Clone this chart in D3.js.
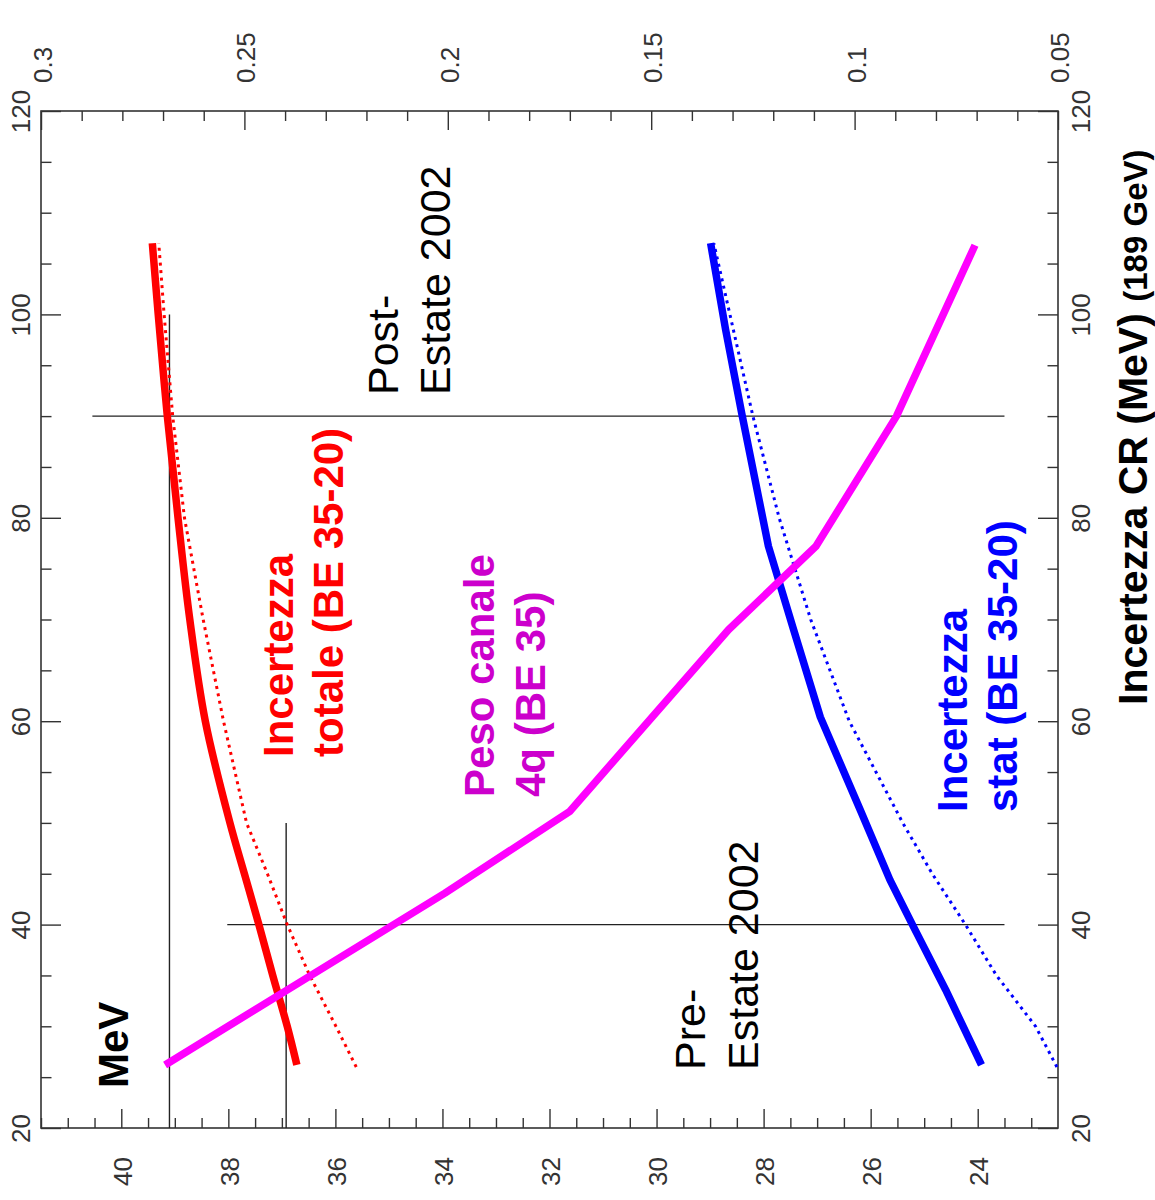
<!DOCTYPE html>
<html>
<head>
<meta charset="utf-8">
<script src="https://cdn.jsdelivr.net/npm/d3@7"></script>
<style>
  html, body { margin: 0; padding: 0; background: #fff; }
  svg { display: block; }
</style>
</head>
<body>
<svg id="chart" width="1155" height="1200"></svg>
<script>
// ---------------- DATA ----------------
// x quantity: Incertezza CR (MeV) ; left quantity: MeV ; right quantity: peso canale 4q
const crTicks = [20, 40, 60, 80, 100, 120];
const mevTicks = [24, 26, 28, 30, 32, 34, 36, 38, 40];
const pesoTicks = [0.05, 0.1, 0.15, 0.2, 0.25, 0.3];

// Incertezza totale (BE 35-20) - thick red
const crTot = [26.2, 30, 35, 40, 45, 50, 60, 70, 80, 90, 100, 107];
const totThick = [36.72, 36.90, 37.17, 37.43, 37.70, 37.97, 38.43, 38.72, 38.94, 39.14, 39.31, 39.42];
// dotted companions
const crDot = [26, 30, 35, 40, 45, 50, 60, 70, 80, 90, 100, 107];
const totDot = [35.61, 35.99, 36.48, 36.90, 37.27, 37.66, 38.09, 38.47, 38.82, 39.04, 39.20, 39.30];
const statDot = [22.52, 22.92, 23.65, 24.23, 24.85, 25.40, 26.40, 27.12, 27.71, 28.20, 28.63, 28.93];
// Incertezza stat (BE 35-20) - thick blue
const crStat = [26.2, 33.6, 40, 44.4, 51.1, 60.4, 69, 77.2, 90.3, 98.5, 107];
const statThick = [23.93, 24.60, 25.22, 25.64, 26.18, 26.94, 27.44, 27.91, 28.41, 28.71, 28.99];
// Peso canale 4q (BE 35) - magenta, right scale
const crPeso = [26.2, 43.1, 51.1, 69.0, 77.2, 90.0, 106.8];
const peso = [0.2695, 0.2007, 0.1701, 0.1310, 0.1095, 0.0897, 0.0704];

// reference lines (Pre / Post Estate 2002)
const refMeV = [39.1, 36.92];       // constant-MeV lines
const refMeVcr = [[20, 100], [20, 50]];
const refCR = [40, 90];             // constant-CR lines
const refCRmev = [[38.02, 23.5], [40.54, 23.5]];

// ---------------- DRAW ----------------
const svg = d3.select("#chart");
const FONT = "'Liberation Sans', Arial, Helvetica, sans-serif";
const L = 41, R = 1058, T = 111, B = 1128;

const yCR = d3.scaleLinear().domain([20, 120]).range([B, T]);
const xM = d3.scaleLinear().domain([41.5, 22.5]).range([L, R]);
const xP = d3.scaleLinear().domain([0.3, 0.05]).range([L, R]);

const axColor = "#333";
function clean(g) {
  g.select(".domain").remove();
  g.selectAll("line").attr("stroke", axColor).attr("stroke-width", 1.4);
  g.selectAll("text").attr("x", null).attr("y", null).attr("dy", null)
    .attr("font-family", FONT).attr("font-size", 26).attr("fill", "#333");
}
const fmt = d => String(+d.toFixed(2));

// bottom edge : MeV
const mevMinor = d3.range(23, 41.51, 0.5).filter(v => Math.abs(v % 2) > 1e-6);
svg.append("g").attr("transform", `translate(0,${B})`)
  .call(d3.axisBottom(xM).tickValues(mevMinor).tickSize(-10).tickFormat("")).call(clean);
svg.append("g").attr("transform", `translate(0,${B})`)
  .call(d3.axisBottom(xM).tickValues(mevTicks).tickSize(-19).tickFormat(fmt)).call(clean)
  .call(g => g.selectAll("text").attr("text-anchor", "end").attr("transform", "translate(10,29) rotate(-90)"));

// top edge : peso
const pesoMinor = d3.range(6, 30).map(v => v / 100).filter(v => Math.round(v * 100) % 5 !== 0);
svg.append("g").attr("transform", `translate(0,${T})`)
  .call(d3.axisTop(xP).tickValues(pesoMinor).tickSize(-10).tickFormat("")).call(clean);
svg.append("g").attr("transform", `translate(0,${T})`)
  .call(d3.axisTop(xP).tickValues(pesoTicks).tickSize(-19).tickFormat(fmt)).call(clean)
  .call(g => g.selectAll("text").attr("text-anchor", "start").attr("transform", "translate(10.5,-28) rotate(-90)"));

// left & right edges : CR
const crMinor = d3.range(25, 120, 5).filter(v => v % 20 !== 0);
svg.append("g").attr("transform", `translate(${L},0)`)
  .call(d3.axisLeft(yCR).tickValues(crMinor).tickSize(-10.5).tickFormat("")).call(clean);
svg.append("g").attr("transform", `translate(${L},0)`)
  .call(d3.axisLeft(yCR).tickValues(crTicks).tickSize(-20).tickFormat(fmt)).call(clean)
  .call(g => g.selectAll("text").attr("text-anchor", "middle").attr("transform", "translate(-11,0) rotate(-90)"));
svg.append("g").attr("transform", `translate(${R},0)`)
  .call(d3.axisRight(yCR).tickValues(crMinor).tickSize(-10.5).tickFormat("")).call(clean);
svg.append("g").attr("transform", `translate(${R},0)`)
  .call(d3.axisRight(yCR).tickValues(crTicks).tickSize(-20).tickFormat(fmt)).call(clean)
  .call(g => g.selectAll("text").attr("text-anchor", "middle").attr("transform", "translate(32,0) rotate(-90)"));

// frame
svg.append("rect").attr("x", L).attr("y", T).attr("width", R - L).attr("height", B - T)
  .attr("fill", "none").attr("stroke", axColor).attr("stroke-width", 1.6);

// reference lines
const plot = svg.append("g");
refMeV.forEach((m, i) => {
  plot.append("line").attr("x1", xM(m)).attr("x2", xM(m))
    .attr("y1", yCR(refMeVcr[i][0])).attr("y2", yCR(refMeVcr[i][1]))
    .attr("stroke", "#222").attr("stroke-width", 1.4);
});
refCR.forEach((c, i) => {
  plot.append("line").attr("y1", yCR(c)).attr("y2", yCR(c))
    .attr("x1", xM(refCRmev[i][0])).attr("x2", xM(refCRmev[i][1]))
    .attr("stroke", "#222").attr("stroke-width", 1.4);
});

// curves
const lineM = d3.line().x(d => xM(d[1])).y(d => yCR(d[0]));
const lineMs = d3.line().x(d => xM(d[1])).y(d => yCR(d[0])).curve(d3.curveCatmullRom.alpha(0.5));
const lineP = d3.line().x(d => xP(d[1])).y(d => yCR(d[0]));
const zip = (a, b) => a.map((v, i) => [v, b[i]]);

function draw(gen, data, color, width, dash) {
  plot.append("path").datum(data).attr("d", gen)
    .attr("fill", "none").attr("stroke", color).attr("stroke-width", width)
    .attr("stroke-linejoin", "round")
    .attr("stroke-dasharray", dash || null);
}
draw(lineM, zip(crDot, totDot), "#ff0000", 3, "3,4.5");
draw(lineM, zip(crDot, statDot), "#0000ff", 3, "3,4.5");
draw(lineMs, zip(crTot, totThick), "#ff0000", 7.5);
draw(lineM, zip(crStat, statThick), "#0000ff", 7.5);
draw(lineP, zip(crPeso, peso), "#ff00ff", 7.5);

// text annotations (rotated -90)
function vtext(x, y, str, opts) {
  const t = svg.append("text")
    .attr("transform", `translate(${x},${y}) rotate(-90)`)
    .attr("font-family", FONT)
    .attr("font-size", opts.size)
    .attr("font-weight", opts.weight || "normal")
    .attr("fill", opts.color || "#000")
    .attr("text-anchor", opts.anchor || "start");
  t.text(str);
  return t;
}
vtext(128, 1088, "MeV", {size: 42, weight: "bold"});
vtext(293, 757, "Incertezza", {size: 42, weight: "bold", color: "#ff0000"});
vtext(343, 757, "totale (BE 35-20)", {size: 42, weight: "bold", color: "#ff0000"});
vtext(494, 797, "Peso canale", {size: 42, weight: "bold", color: "#cc00cc"});
vtext(545, 797, "4q (BE 35)", {size: 42, weight: "bold", color: "#cc00cc"});
vtext(967, 812, "Incertezza", {size: 42, weight: "bold", color: "#0000ff"});
vtext(1017, 812, "stat (BE 35-20)", {size: 42, weight: "bold", color: "#0000ff"});
vtext(398, 395, "Post-", {size: 43});
vtext(450, 395, "Estate 2002", {size: 43});
vtext(705, 1070, "Pre-", {size: 43});
vtext(758, 1070, "Estate 2002", {size: 43});

const title = vtext(1147, 705, "", {size: 41, weight: "bold"});
title.append("tspan").text("Incertezza CR (MeV) ");
title.append("tspan").attr("font-size", 33).text("(189 GeV)");
</script>
</body>
</html>
